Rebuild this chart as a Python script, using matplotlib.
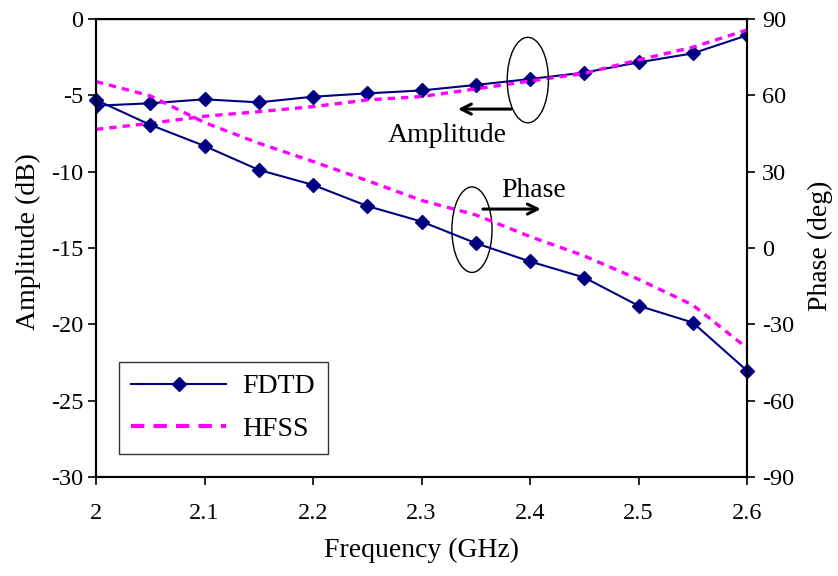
import numpy as np
import matplotlib
matplotlib.use('Agg')
import matplotlib.pyplot as plt
from matplotlib.patches import Ellipse
from matplotlib.lines import Line2D

# -------------------------------------------------------------------------------------
# Data
freq = [2.0, 2.05, 2.1, 2.15, 2.2, 2.25, 2.3, 2.35, 2.4, 2.45, 2.5, 2.55, 2.6]

amp_fdtd = [-5.68, -5.52, -5.26, -5.46, -5.09, -4.87, -4.68, -4.32, -3.93, -3.51, -2.84, -2.25, -1.07]
amp_hfss = [-7.23, -6.83, -6.37, -6.07, -5.74, -5.30, -5.08, -4.58, -4.06, -3.56, -2.68, -1.85, -0.72]

phase_fdtd = [58.2, 48.4, 40.1, 30.7, 24.8, 16.5, 10.4, 1.9, -5.3, -11.6, -22.7, -29.3, -48.2]
phase_hfss = [65.4, 59.8, 49.3, 41.2, 34.0, 26.5, 18.7, 13.0, 4.5, -3.1, -12.3, -22.4, -39.3]

x_ticks = [2.0, 2.1, 2.2, 2.3, 2.4, 2.5, 2.6]
x_tick_labels = ['2', '2.1', '2.2', '2.3', '2.4', '2.5', '2.6']
amp_ticks = [0, -5, -10, -15, -20, -25, -30]
phase_ticks = [90, 60, 30, 0, -30, -60, -90]
# -------------------------------------------------------------------------------------

plt.rcParams['font.family'] = ['Liberation Serif', 'DejaVu Serif']
plt.rcParams['font.size'] = 17
plt.rcParams['axes.unicode_minus'] = False

col_fdtd = '#000080'
col_hfss = '#FF00FF'

fig = plt.figure(figsize=(8.38, 5.76), dpi=100)
ax1 = fig.add_axes([0.1146, 0.1719, 0.7768, 0.7951])
ax2 = ax1.twinx()

# Amplitude curves
p1, = ax1.plot(freq, amp_fdtd, color=col_fdtd, lw=1.5, marker='D', ms=7, label='FDTD')
p2, = ax1.plot(freq, amp_hfss, color=col_hfss, lw=2.4, dashes=(2.2, 1.8), label='HFSS')

# Phase curves
ax2.plot(freq, phase_fdtd, color=col_fdtd, lw=1.5, marker='D', ms=7, clip_on=False)
ax2.plot(freq, phase_hfss, color=col_hfss, lw=2.4, dashes=(2.2, 1.8))

ax1.set_xlim(2.0, 2.6)
ax1.set_ylim(-30, 0)
ax2.set_ylim(-90, 90)
ax1.set_xticks(x_ticks)
ax1.set_xticklabels(x_tick_labels)
ax1.set_yticks(amp_ticks)
ax2.set_yticks(phase_ticks)

for ax in (ax1, ax2):
    ax.tick_params(direction='out', length=6, width=1.2, labelsize=17.5)
    for sp in ax.spines.values():
        sp.set_linewidth(1.5)
ax1.tick_params(axis='x', pad=13)
ax1.tick_params(axis='y', pad=3)
ax2.tick_params(axis='y', pad=5)
ax1.spines['top'].set_linewidth(1.0)
ax1.spines['top'].set_color('#444444')

ax1.set_xlabel('Frequency (GHz)', fontsize=20, labelpad=10)
ax1.set_ylabel('Amplitude (dB)', fontsize=20)
ax2.set_ylabel('Phase (deg)', fontsize=20, rotation=90)
# label anchors sit on the text edge nearest the axes
ax1.yaxis.set_label_coords(-0.084, 0.515)
ax2.yaxis.set_label_coords(1.093, 0.504)

# Annotations: ellipses with arrows
ax1.add_patch(Ellipse((2.398, -4.0), 0.038, 5.6, fill=False, ec='black', lw=1.0, zorder=5))
ax1.annotate('', xy=(2.331, -5.9), xytext=(2.385, -5.9),
             arrowprops=dict(arrowstyle='->', lw=2.2, color='black', mutation_scale=18))
ax1.text(2.3235, -7.6, 'Amplitude', ha='center', va='center', fontsize=20)

ax1.add_patch(Ellipse((2.3465, -13.8), 0.037, 5.6, fill=False, ec='black', lw=1.0, zorder=5))
ax1.annotate('', xy=(2.4125, -12.45), xytext=(2.354, -12.45),
             arrowprops=dict(arrowstyle='->', lw=2.2, color='black', mutation_scale=18))
ax1.text(2.4037, -11.25, 'Phase', ha='center', va='center', fontsize=20)

# legend handle for HFSS drawn with the longer dashes seen in the key
h_hfss = Line2D([], [], color=col_hfss, lw=3.0, dashes=(3.2, 2.2))
legend = ax1.legend(handles=[p1, h_hfss], labels=['FDTD', 'HFSS'], loc='lower left',
                    bbox_to_anchor=(0.035, 0.05),
                    frameon=True, fancybox=False, edgecolor='black', fontsize=20,
                    handlelength=3.4, borderpad=0.45, labelspacing=0.6, handletextpad=0.6,
                    borderaxespad=0.0)
legend.get_frame().set_linewidth(1.0)
legend.set_zorder(10)

fig.savefig('out.png', dpi=100)
plt.close()
